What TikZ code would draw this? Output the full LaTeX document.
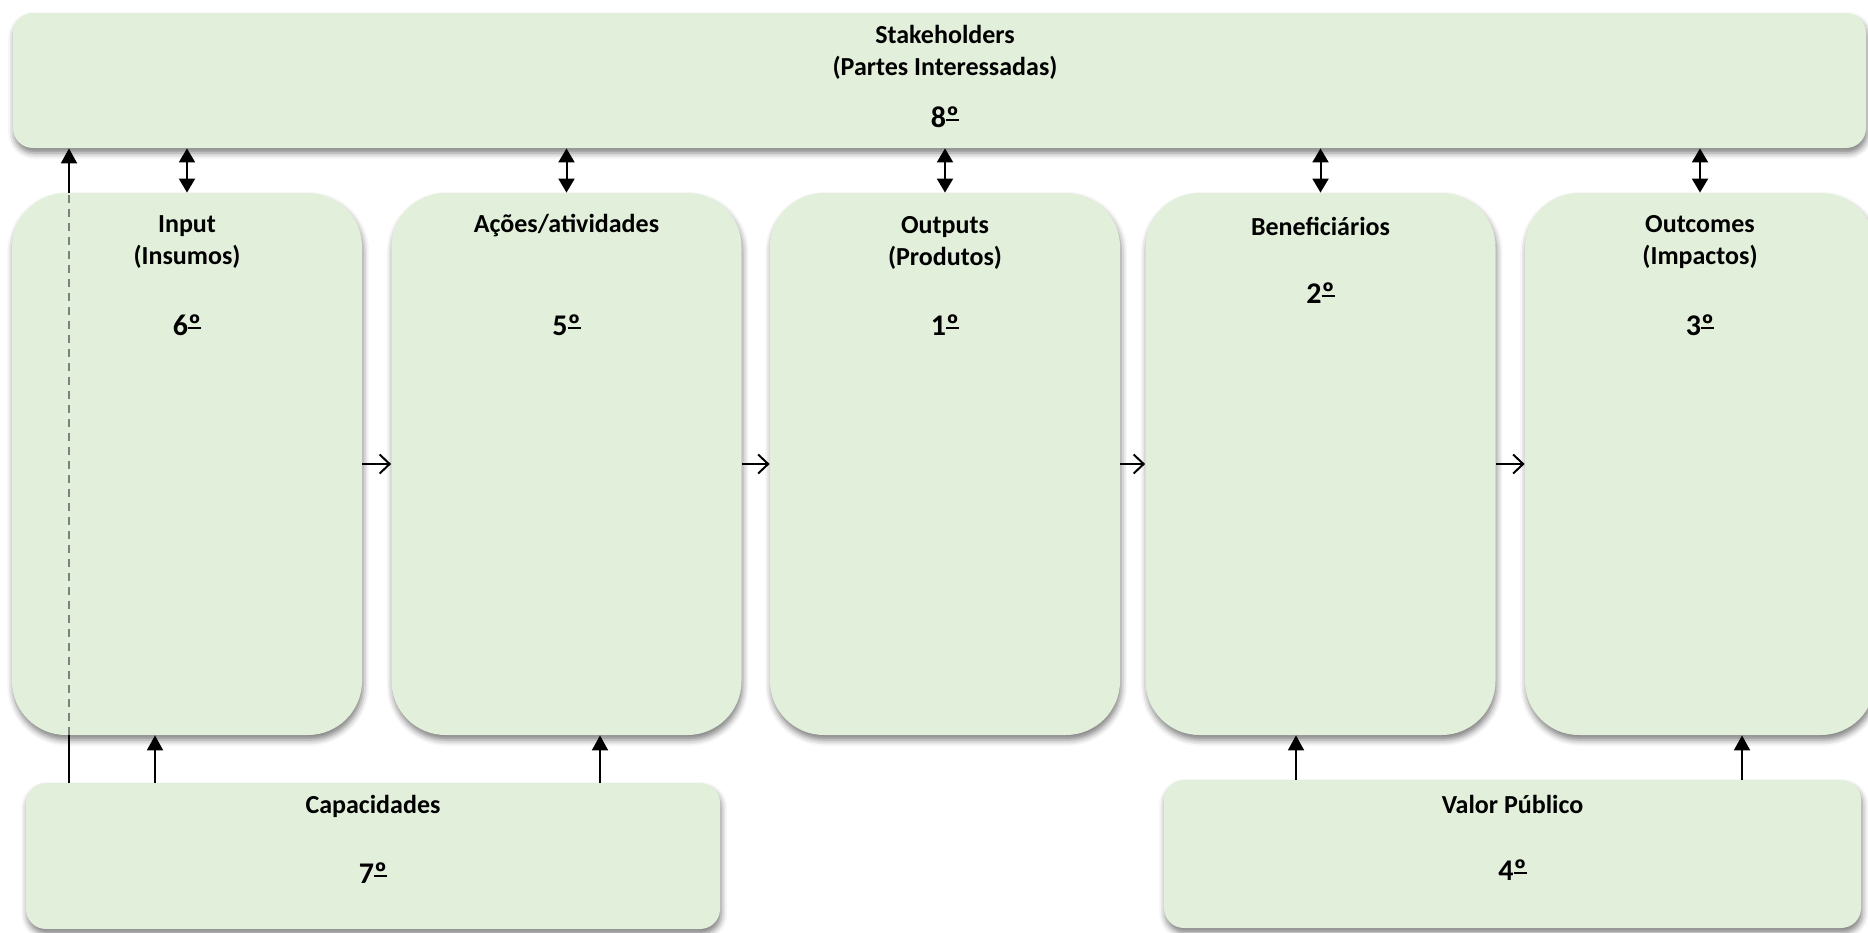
\documentclass[tikz,border=0pt]{standalone}
\usepackage{fontspec}
\setmainfont{Carlito}
\usetikzlibrary{arrows.meta,shadows.blur}
\definecolor{boxgreen}{HTML}{E2EFDA}
% ordinal sign with its bar underneath
\newsavebox\ordbox
\newcommand\ordm{\sbox\ordbox{º}\rlap{\rule[0.2em]{\wd\ordbox}{0.065em}}\usebox\ordbox}
\begin{document}
\begin{tikzpicture}[x=0.5pt,y=-0.5pt,
	box/.style={fill=boxgreen, draw=none, inner sep=0pt,
		blur shadow={shadow xshift=0.6pt, shadow yshift=-2.5pt, shadow blur radius=3pt, shadow opacity=50}},
	tall/.style={box, rounded corners=27pt, minimum width=175pt, minimum height=271pt},
	wide/.style={box, rounded corners=10pt},
	title/.style={font=\bfseries\fontsize{13}{16}\selectfont, align=center},
	rank/.style={font=\bfseries\fontsize{15}{18}\selectfont},
	uparr/.style={line width=1pt, -{Triangle[length=7.5pt,width=8pt]}},
	dblarr/.style={line width=1pt, {Triangle[length=7pt,width=8pt]}-{Triangle[length=7pt,width=8pt]}},
	flow/.style={line width=1pt, -{Straight Barb[length=5pt,width=9.5pt]}}]
	\useasboundingbox (0,0) rectangle (1868,932);
	% boxes
	\node[wide, minimum width=926.5pt, minimum height=67.5pt] (stake) at (939.5,80.5) {};
	\node[tall] (input) at (187,464) {};
	\node[tall] (acoes) at (566.5,464) {};
	\node[tall] (outputs) at (945,464) {};
	\node[tall] (benef) at (1320.5,464) {};
	\node[tall] (outcomes) at (1700,464) {};
	\node[wide, minimum width=347pt, minimum height=73pt] (cap) at (373,856) {};
	\node[wide, minimum width=348.5pt, minimum height=74pt] (valor) at (1512.5,854) {};
	% texts
	\node[title] (stake-t) at (945,52) {Stakeholders\\(Partes Interessadas)};
	\node[rank] (stake-n) at (945,117) {8\ordm};
	\node[title] (input-t) at (187,242.5) {Input\\(Insumos)};
	\node[rank] (input-n) at (187,325) {6\ordm};
	\node[title] (acoes-t) at (566.5,226) {Ações/atividades};
	\node[rank] (acoes-n) at (566.5,325) {5\ordm};
	\node[title] (outputs-t) at (945,242.5) {Outputs\\(Produtos)};
	\node[rank] (outputs-n) at (945,325) {1\ordm};
	\node[title] (benef-t) at (1320.5,226) {Beneficiários};
	\node[rank] (benef-n) at (1320.5,293) {2\ordm};
	\node[title] (outcomes-t) at (1700,242.5) {Outcomes\\(Impactos)};
	\node[rank] (outcomes-n) at (1700,325) {3\ordm};
	\node[title] (cap-t) at (373,806) {Capacidades};
	\node[rank] (cap-n) at (373,873) {7\ordm};
	\node[title] (valor-t) at (1512.5,804) {Valor Público};
	\node[rank] (valor-n) at (1512.5,870) {4\ordm};
	% links with the stakeholders
	\foreach \b in {input,acoes,outputs,benef,outcomes}
		\draw[dblarr] (\b.north) -- (stake.south -| \b.north);
	% chain
	\draw[flow] (input.east) -- (acoes.west);
	\draw[flow] (acoes.east) -- (outputs.west);
	\draw[flow] (outputs.east) -- (benef.west);
	\draw[flow] (benef.east) -- (outcomes.west);
	% from the bottom boxes
	\coordinate (feed) at (69,0);
	\coordinate (capA) at (155,0);
	\coordinate (capB) at (600,0);
	\coordinate (valA) at (1296,0);
	\coordinate (valB) at (1742,0);
	\draw[line width=1pt] (cap.north -| feed) -- (input.south -| feed);
	\draw[gray, line width=1pt, dash pattern=on 4pt off 3pt] (input.south -| feed) -- (input.north -| feed);
	\draw[uparr] (input.north -| feed) -- (stake.south -| feed);
	\draw[uparr] (cap.north -| capA) -- (input.south -| capA);
	\draw[uparr] (cap.north -| capB) -- (acoes.south -| capB);
	\draw[uparr] (valor.north -| valA) -- (benef.south -| valA);
	\draw[uparr] (valor.north -| valB) -- (outcomes.south -| valB);
\end{tikzpicture}
\end{document}
